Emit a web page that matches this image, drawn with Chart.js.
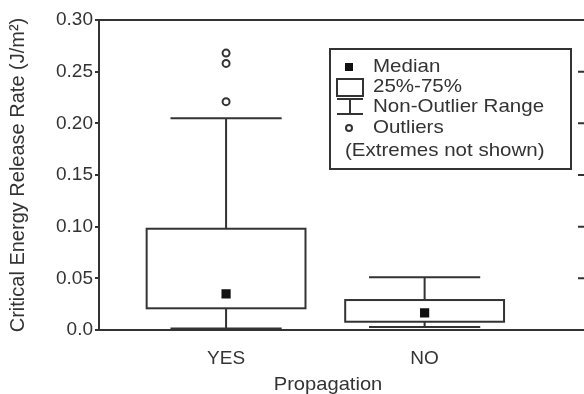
<!DOCTYPE html>
<html>
<head>
<meta charset="utf-8">
<script src="https://cdn.jsdelivr.net/npm/chart.js@4/dist/chart.umd.min.js"></script>
<style>
  html, body { margin: 0; padding: 0; background: #fff; }
  #wrap { width: 584px; height: 394px; }
</style>
</head>
<body>
<div id="wrap"><canvas id="box-chart"></canvas></div>
<script>
// data
const categories = ["YES", "NO"];
const categoryPos = [1, 2];
const q1Values = [0.021, 0.008];
const q3Values = [0.098, 0.029];
const medianValues = [0.035, 0.0165];
const whiskerLow = [0.0015, 0.003];
const whiskerHigh = [0.205, 0.051];
const outlierYes = [0.268, 0.258, 0.221];
const yTickValues = [0, 0.05, 0.1, 0.15, 0.2, 0.25, 0.3];
const yTickLabels = ["0.0", "0.05", "0.10", "0.15", "0.20", "0.25", "0.30"];
const xTitle = "Propagation";

const ink = "#333";
const fontFamily = "'Liberation Sans', Arial, sans-serif";

const boxHalf = 0.4;
const capHalf = 0.28;

// draws the text stretched a bit wider, like the original figure
function wideText(ctx, text, x, y, stretch) {
  ctx.save();
  ctx.translate(x, y);
  ctx.scale(stretch, 1);
  ctx.fillText(text, 0, 0);
  ctx.restore();
}

const boxPlugin = {
  id: "boxes",
  beforeDatasetsDraw(chart) {
    const ctx = chart.ctx;
    const x = chart.scales.x;
    const y = chart.scales.y;
    ctx.save();
    ctx.strokeStyle = ink;
    ctx.lineWidth = 2;
    categoryPos.forEach((pos, i) => {
      const xl = x.getPixelForValue(pos - boxHalf);
      const xr = x.getPixelForValue(pos + boxHalf);
      const xc = x.getPixelForValue(pos);
      const cl = x.getPixelForValue(pos - capHalf);
      const cr = x.getPixelForValue(pos + capHalf);
      const yq1 = y.getPixelForValue(q1Values[i]);
      const yq3 = y.getPixelForValue(q3Values[i]);
      const yLo = y.getPixelForValue(whiskerLow[i]);
      const yHi = y.getPixelForValue(whiskerHigh[i]);
      ctx.strokeRect(xl, yq3, xr - xl, yq1 - yq3);
      ctx.beginPath();
      ctx.moveTo(xc, yq3); ctx.lineTo(xc, yHi);
      ctx.moveTo(cl, yHi); ctx.lineTo(cr, yHi);
      ctx.moveTo(xc, yq1); ctx.lineTo(xc, yLo);
      ctx.moveTo(cl, yLo); ctx.lineTo(cr, yLo);
      ctx.stroke();
    });
    ctx.restore();
  },
  afterDraw(chart) {
    const ctx = chart.ctx;
    const area = chart.chartArea;
    const y = chart.scales.y;
    ctx.save();
    ctx.strokeStyle = ink;
    ctx.lineWidth = 2;
    // top frame and inward ticks on the right side
    ctx.beginPath();
    ctx.moveTo(area.left, area.top);
    ctx.lineTo(chart.width, area.top);
    yTickValues.forEach((v) => {
      const py = y.getPixelForValue(v);
      ctx.moveTo(chart.width - 6, py);
      ctx.lineTo(chart.width, py);
    });
    ctx.stroke();

    // x axis title, sits a little left of the plot centre in the original
    ctx.fillStyle = ink;
    ctx.font = "19px " + fontFamily;
    ctx.textBaseline = "middle";
    ctx.textAlign = "center";
    wideText(ctx, xTitle, 328, 385, 1.06);

    // legend box
    ctx.strokeRect(330, 49, 241, 120);
    ctx.fillStyle = "#111";
    ctx.fillRect(345, 63, 8, 8);
    ctx.strokeRect(337, 79, 26, 17);
    ctx.beginPath();
    ctx.moveTo(337, 99); ctx.lineTo(363, 99);
    ctx.moveTo(350, 99); ctx.lineTo(350, 114);
    ctx.moveTo(337, 114); ctx.lineTo(363, 114);
    ctx.stroke();
    ctx.beginPath();
    ctx.arc(349, 128, 3, 0, Math.PI * 2);
    ctx.stroke();
    ctx.fillStyle = ink;
    ctx.textAlign = "left";
    wideText(ctx, "Median", 373, 67, 1.08);
    wideText(ctx, "25%-75%", 373, 87, 1.08);
    wideText(ctx, "Non-Outlier Range", 373, 107, 1.08);
    wideText(ctx, "Outliers", 373, 128, 1.08);
    wideText(ctx, "(Extremes not shown)", 345, 151, 1.08);
    ctx.restore();
  },
};

new Chart(document.getElementById("box-chart"), {
  type: "scatter",
  data: {
    datasets: [
      {
        label: "Median",
        data: categoryPos.map((pos, i) => ({ x: pos, y: medianValues[i] })),
        pointStyle: "rect",
        pointRadius: 6.5,
        backgroundColor: "#111",
        borderColor: "#111",
        borderWidth: 0,
      },
      {
        label: "Outliers",
        data: outlierYes.map((v) => ({ x: categoryPos[0], y: v })),
        pointStyle: "circle",
        pointRadius: 3.5,
        backgroundColor: "#fff",
        borderColor: ink,
        borderWidth: 2,
      },
    ],
  },
  options: {
    responsive: true,
    maintainAspectRatio: false,
    animation: false,
    layout: { padding: { top: 20, right: 0, left: 0, bottom: 0 } },
    plugins: {
      legend: { display: false },
      tooltip: { enabled: false },
    },
    scales: {
      x: {
        type: "linear",
        min: 0.36,
        max: 2.77,
        afterBuildTicks: (scale) => {
          scale.ticks = categoryPos.map((v) => ({ value: v }));
        },
        afterFit: (scale) => {
          scale.height = 64;
        },
        ticks: {
          padding: 9,
          color: ink,
          font: { family: fontFamily, size: 19 },
          callback: (value) => categories[categoryPos.indexOf(value)] || "",
        },
        grid: { display: false },
        border: { display: true, color: ink, width: 2 },
      },
      y: {
        min: 0,
        max: 0.3,
        afterBuildTicks: (scale) => {
          scale.ticks = yTickValues.map((v) => ({ value: v }));
        },
        afterFit: (scale) => {
          scale.width = 99;
        },
        ticks: {
          padding: 2,
          color: ink,
          font: { family: fontFamily, size: 19 },
          callback: (value) => yTickLabels[yTickValues.indexOf(value)] || "",
        },
        grid: {
          drawOnChartArea: false,
          drawTicks: true,
          tickLength: 4,
          color: ink,
          lineWidth: 2,
        },
        border: { display: true, color: ink, width: 2 },
        title: {
          display: true,
          text: "Critical Energy Release Rate (J/m²)",
          color: ink,
          font: { family: fontFamily, size: 20 },
          padding: { top: 6, bottom: 0 },
        },
      },
    },
  },
  plugins: [boxPlugin],
});
</script>
</body>
</html>
